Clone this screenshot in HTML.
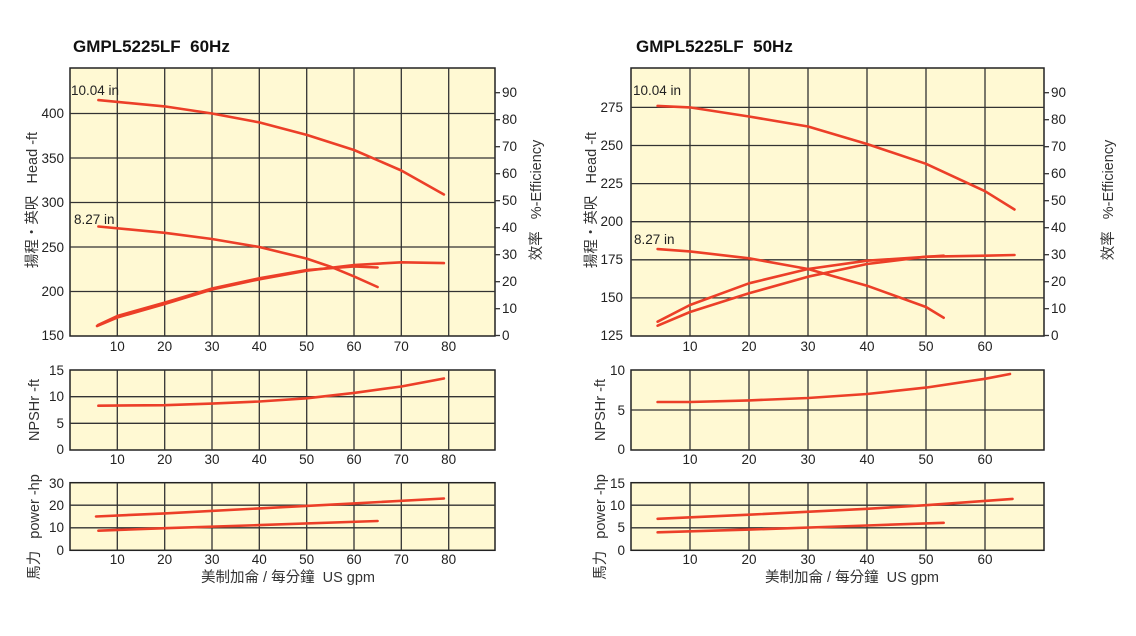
<!DOCTYPE html>
<html><head><meta charset="utf-8"><style>
body{margin:0;background:#fff;}
svg{display:block;font-family:"Liberation Sans","Noto Sans CJK TC",sans-serif;}
.bg{fill:#fff9d3;stroke:#222;stroke-width:1.5}
.g{stroke:#333;stroke-width:1.3}
.c{fill:none;stroke:#ec3f28;stroke-width:2.6;stroke-linecap:round;stroke-linejoin:round}
text{fill:#222;font-size:13.5px}
.t{font-size:17px;font-weight:bold;fill:#111}
.yl{text-anchor:end}
.xl{text-anchor:middle}
.al{font-size:14.5px;text-anchor:middle;fill:#333}
</style></head><body>
<svg width="1136" height="636" viewBox="0 0 1136 636">
<!-- ============ LEFT 60Hz ============ -->
<text class="t" x="73" y="52">GMPL5225LF&#160;&#160;60Hz</text>
<rect class="bg" x="70" y="68" width="425" height="268"/>
<g class="g">
<line x1="117.3" y1="68" x2="117.3" y2="336"/><line x1="164.7" y1="68" x2="164.7" y2="336"/><line x1="212" y1="68" x2="212" y2="336"/><line x1="259.3" y1="68" x2="259.3" y2="336"/><line x1="306.7" y1="68" x2="306.7" y2="336"/><line x1="354" y1="68" x2="354" y2="336"/><line x1="401.3" y1="68" x2="401.3" y2="336"/><line x1="448.7" y1="68" x2="448.7" y2="336"/>
<line x1="70" y1="113.5" x2="495" y2="113.5"/><line x1="70" y1="158" x2="495" y2="158"/><line x1="70" y1="202.5" x2="495" y2="202.5"/><line x1="70" y1="247" x2="495" y2="247"/><line x1="70" y1="291.5" x2="495" y2="291.5"/>
<line x1="495" y1="92.7" x2="500" y2="92.7"/><line x1="495" y1="119.7" x2="500" y2="119.7"/><line x1="495" y1="146.7" x2="500" y2="146.7"/><line x1="495" y1="173.7" x2="500" y2="173.7"/><line x1="495" y1="200.7" x2="500" y2="200.7"/><line x1="495" y1="227.7" x2="500" y2="227.7"/><line x1="495" y1="254.7" x2="500" y2="254.7"/><line x1="495" y1="281.7" x2="500" y2="281.7"/><line x1="495" y1="308.7" x2="500" y2="308.7"/><line x1="495" y1="335.5" x2="500" y2="335.5"/>
</g>
<text class="yl" x="64" y="118">400</text><text class="yl" x="64" y="163">350</text><text class="yl" x="64" y="207">300</text><text class="yl" x="64" y="252">250</text><text class="yl" x="64" y="296">200</text><text class="yl" x="64" y="340">150</text>
<text x="502" y="97">90</text><text x="502" y="124">80</text><text x="502" y="151">70</text><text x="502" y="178">60</text><text x="502" y="205">50</text><text x="502" y="232">40</text><text x="502" y="259">30</text><text x="502" y="286">20</text><text x="502" y="313">10</text><text x="502" y="340">0</text>
<g class="xl"><text x="117.3" y="351">10</text><text x="164.7" y="351">20</text><text x="212" y="351">30</text><text x="259.3" y="351">40</text><text x="306.7" y="351">50</text><text x="354" y="351">60</text><text x="401.3" y="351">70</text><text x="448.7" y="351">80</text></g>
<text x="71" y="95">10.04 in</text><text x="74" y="224">8.27 in</text>
<polyline class="c" points="98.4,100.1 164.7,106.4 212,113.5 259.3,122.4 306.7,134.9 354,150 401.3,170.5 443.9,194.5"/>
<polyline class="c" points="98.4,226.5 164.7,232.8 212,239 259.3,247 306.7,258.6 330.3,266.6 354,276.4 377.6,287"/>
<polyline class="c" points="97,326 117.3,317.5 164.7,304 212,289.5 259.3,279.3 306.7,270.7 354,265 401.3,262.3 443.9,263.1"/>
<polyline class="c" points="98,325 117.3,316 164.7,302.6 212,288.5 259.3,278.3 306.7,270 354,266.5 377.6,267.5"/>
<text class="al" transform="translate(37,200) rotate(-90)">揚程・英呎&#160;&#160;&#160;Head -ft</text>
<text class="al" transform="translate(541,200) rotate(-90)">效率&#160;&#160;&#160;%-Efficiency</text>
<!-- NPSH -->
<rect class="bg" x="70" y="370" width="425" height="80"/>
<g class="g">
<line x1="117.3" y1="370" x2="117.3" y2="450"/><line x1="164.7" y1="370" x2="164.7" y2="450"/><line x1="212" y1="370" x2="212" y2="450"/><line x1="259.3" y1="370" x2="259.3" y2="450"/><line x1="306.7" y1="370" x2="306.7" y2="450"/><line x1="354" y1="370" x2="354" y2="450"/><line x1="401.3" y1="370" x2="401.3" y2="450"/><line x1="448.7" y1="370" x2="448.7" y2="450"/>
<line x1="70" y1="396.7" x2="495" y2="396.7"/><line x1="70" y1="423.3" x2="495" y2="423.3"/>
</g>
<text class="yl" x="64" y="375">15</text><text class="yl" x="64" y="401">10</text><text class="yl" x="64" y="428">5</text><text class="yl" x="64" y="454">0</text>
<g class="xl"><text x="117.3" y="464">10</text><text x="164.7" y="464">20</text><text x="212" y="464">30</text><text x="259.3" y="464">40</text><text x="306.7" y="464">50</text><text x="354" y="464">60</text><text x="401.3" y="464">70</text><text x="448.7" y="464">80</text></g>
<polyline class="c" points="98.4,405.7 164.7,405.2 212,403.6 259.3,401.5 306.7,398.3 354,392.9 401.3,386.5 443.9,378.5"/>
<text class="al" transform="translate(39,410) rotate(-90)">NPSHr -ft</text>
<!-- Power -->
<rect class="bg" x="70" y="482.7" width="425" height="67.6"/>
<g class="g">
<line x1="117.3" y1="482.7" x2="117.3" y2="550.3"/><line x1="164.7" y1="482.7" x2="164.7" y2="550.3"/><line x1="212" y1="482.7" x2="212" y2="550.3"/><line x1="259.3" y1="482.7" x2="259.3" y2="550.3"/><line x1="306.7" y1="482.7" x2="306.7" y2="550.3"/><line x1="354" y1="482.7" x2="354" y2="550.3"/><line x1="401.3" y1="482.7" x2="401.3" y2="550.3"/><line x1="448.7" y1="482.7" x2="448.7" y2="550.3"/>
<line x1="70" y1="505.2" x2="495" y2="505.2"/><line x1="70" y1="527.8" x2="495" y2="527.8"/>
</g>
<text class="yl" x="64" y="488">30</text><text class="yl" x="64" y="510">20</text><text class="yl" x="64" y="532">10</text><text class="yl" x="64" y="555">0</text>
<g class="xl"><text x="117.3" y="564">10</text><text x="164.7" y="564">20</text><text x="212" y="564">30</text><text x="259.3" y="564">40</text><text x="306.7" y="564">50</text><text x="354" y="564">60</text><text x="401.3" y="564">70</text><text x="448.7" y="564">80</text></g>
<polyline class="c" points="96,516.5 164.7,513.4 259.3,508.4 354,503.4 443.9,498.5"/>
<polyline class="c" points="98.4,530.7 164.7,528.2 259.3,525.1 377.6,521"/>
<text class="al" transform="translate(39,527) rotate(-90)">馬力&#160;&#160;&#160;power -hp</text>
<text class="al" x="288" y="582">美制加侖 / 每分鐘&#160;&#160;US gpm</text>

<!-- ============ RIGHT 50Hz ============ -->
<text class="t" x="636" y="52">GMPL5225LF&#160;&#160;50Hz</text>
<rect class="bg" x="631" y="68" width="413" height="268"/>
<g class="g">
<line x1="690" y1="68" x2="690" y2="336"/><line x1="749" y1="68" x2="749" y2="336"/><line x1="808" y1="68" x2="808" y2="336"/><line x1="867" y1="68" x2="867" y2="336"/><line x1="926" y1="68" x2="926" y2="336"/><line x1="985" y1="68" x2="985" y2="336"/>
<line x1="631" y1="107.4" x2="1044" y2="107.4"/><line x1="631" y1="145.5" x2="1044" y2="145.5"/><line x1="631" y1="183.6" x2="1044" y2="183.6"/><line x1="631" y1="221.7" x2="1044" y2="221.7"/><line x1="631" y1="259.8" x2="1044" y2="259.8"/><line x1="631" y1="297.9" x2="1044" y2="297.9"/>
<line x1="1044" y1="92.7" x2="1049" y2="92.7"/><line x1="1044" y1="119.7" x2="1049" y2="119.7"/><line x1="1044" y1="146.7" x2="1049" y2="146.7"/><line x1="1044" y1="173.7" x2="1049" y2="173.7"/><line x1="1044" y1="200.7" x2="1049" y2="200.7"/><line x1="1044" y1="227.7" x2="1049" y2="227.7"/><line x1="1044" y1="254.7" x2="1049" y2="254.7"/><line x1="1044" y1="281.7" x2="1049" y2="281.7"/><line x1="1044" y1="308.7" x2="1049" y2="308.7"/><line x1="1044" y1="335.5" x2="1049" y2="335.5"/>
</g>
<text class="yl" x="623" y="112">275</text><text class="yl" x="623" y="150">250</text><text class="yl" x="623" y="188">225</text><text class="yl" x="623" y="226">200</text><text class="yl" x="623" y="264">175</text><text class="yl" x="623" y="302">150</text><text class="yl" x="623" y="340">125</text>
<text x="1051" y="97">90</text><text x="1051" y="124">80</text><text x="1051" y="151">70</text><text x="1051" y="178">60</text><text x="1051" y="205">50</text><text x="1051" y="232">40</text><text x="1051" y="259">30</text><text x="1051" y="286">20</text><text x="1051" y="313">10</text><text x="1051" y="340">0</text>
<g class="xl"><text x="690" y="351">10</text><text x="749" y="351">20</text><text x="808" y="351">30</text><text x="867" y="351">40</text><text x="926" y="351">50</text><text x="985" y="351">60</text></g>
<text x="633" y="95">10.04 in</text><text x="634" y="244">8.27 in</text>
<polyline class="c" points="657.6,105.9 690,107.4 749,116.5 808,126.5 867,144 926,163.8 985,191.2 1014.5,209.5"/>
<polyline class="c" points="657.6,249.1 690,251.4 749,258.3 808,269 867,285.7 926,307 943.7,317.7"/>
<polyline class="c" points="657.6,321.7 690,305 749,283.3 808,269 867,260.7 943.7,255.7"/>
<polyline class="c" points="657.6,325.7 690,312 749,293.3 808,276.7 867,264 926,256.7 985,255.7 1014.5,255"/>
<text class="al" transform="translate(596,200) rotate(-90)">揚程・英呎&#160;&#160;&#160;Head -ft</text>
<text class="al" transform="translate(1113,200) rotate(-90)">效率&#160;&#160;&#160;%-Efficiency</text>
<!-- NPSH -->
<rect class="bg" x="631" y="370" width="413" height="80"/>
<g class="g">
<line x1="690" y1="370" x2="690" y2="450"/><line x1="749" y1="370" x2="749" y2="450"/><line x1="808" y1="370" x2="808" y2="450"/><line x1="867" y1="370" x2="867" y2="450"/><line x1="926" y1="370" x2="926" y2="450"/><line x1="985" y1="370" x2="985" y2="450"/>
<line x1="631" y1="410" x2="1044" y2="410"/>
</g>
<text class="yl" x="625" y="375">10</text><text class="yl" x="625" y="415">5</text><text class="yl" x="625" y="454">0</text>
<g class="xl"><text x="690" y="464">10</text><text x="749" y="464">20</text><text x="808" y="464">30</text><text x="867" y="464">40</text><text x="926" y="464">50</text><text x="985" y="464">60</text></g>
<polyline class="c" points="657.6,402 690,402 749,400.4 808,398 867,394 926,387.6 985,378.8 1010,374"/>
<text class="al" transform="translate(605,410) rotate(-90)">NPSHr -ft</text>
<!-- Power -->
<rect class="bg" x="631" y="482.7" width="413" height="67.6"/>
<g class="g">
<line x1="690" y1="482.7" x2="690" y2="550.3"/><line x1="749" y1="482.7" x2="749" y2="550.3"/><line x1="808" y1="482.7" x2="808" y2="550.3"/><line x1="867" y1="482.7" x2="867" y2="550.3"/><line x1="926" y1="482.7" x2="926" y2="550.3"/><line x1="985" y1="482.7" x2="985" y2="550.3"/>
<line x1="631" y1="505.2" x2="1044" y2="505.2"/><line x1="631" y1="527.8" x2="1044" y2="527.8"/>
</g>
<text class="yl" x="625" y="488">15</text><text class="yl" x="625" y="510">10</text><text class="yl" x="625" y="532">5</text><text class="yl" x="625" y="555">0</text>
<g class="xl"><text x="690" y="564">10</text><text x="749" y="564">20</text><text x="808" y="564">30</text><text x="867" y="564">40</text><text x="926" y="564">50</text><text x="985" y="564">60</text></g>
<polyline class="c" points="657.6,518.8 749,514.7 867,508.8 926,505.2 1012.5,498.9"/>
<polyline class="c" points="657.6,532.3 749,529.6 867,525.5 943.7,522.8"/>
<text class="al" transform="translate(605,527) rotate(-90)">馬力&#160;&#160;&#160;power -hp</text>
<text class="al" x="852" y="582">美制加侖 / 每分鐘&#160;&#160;US gpm</text>
</svg>
</body></html>
